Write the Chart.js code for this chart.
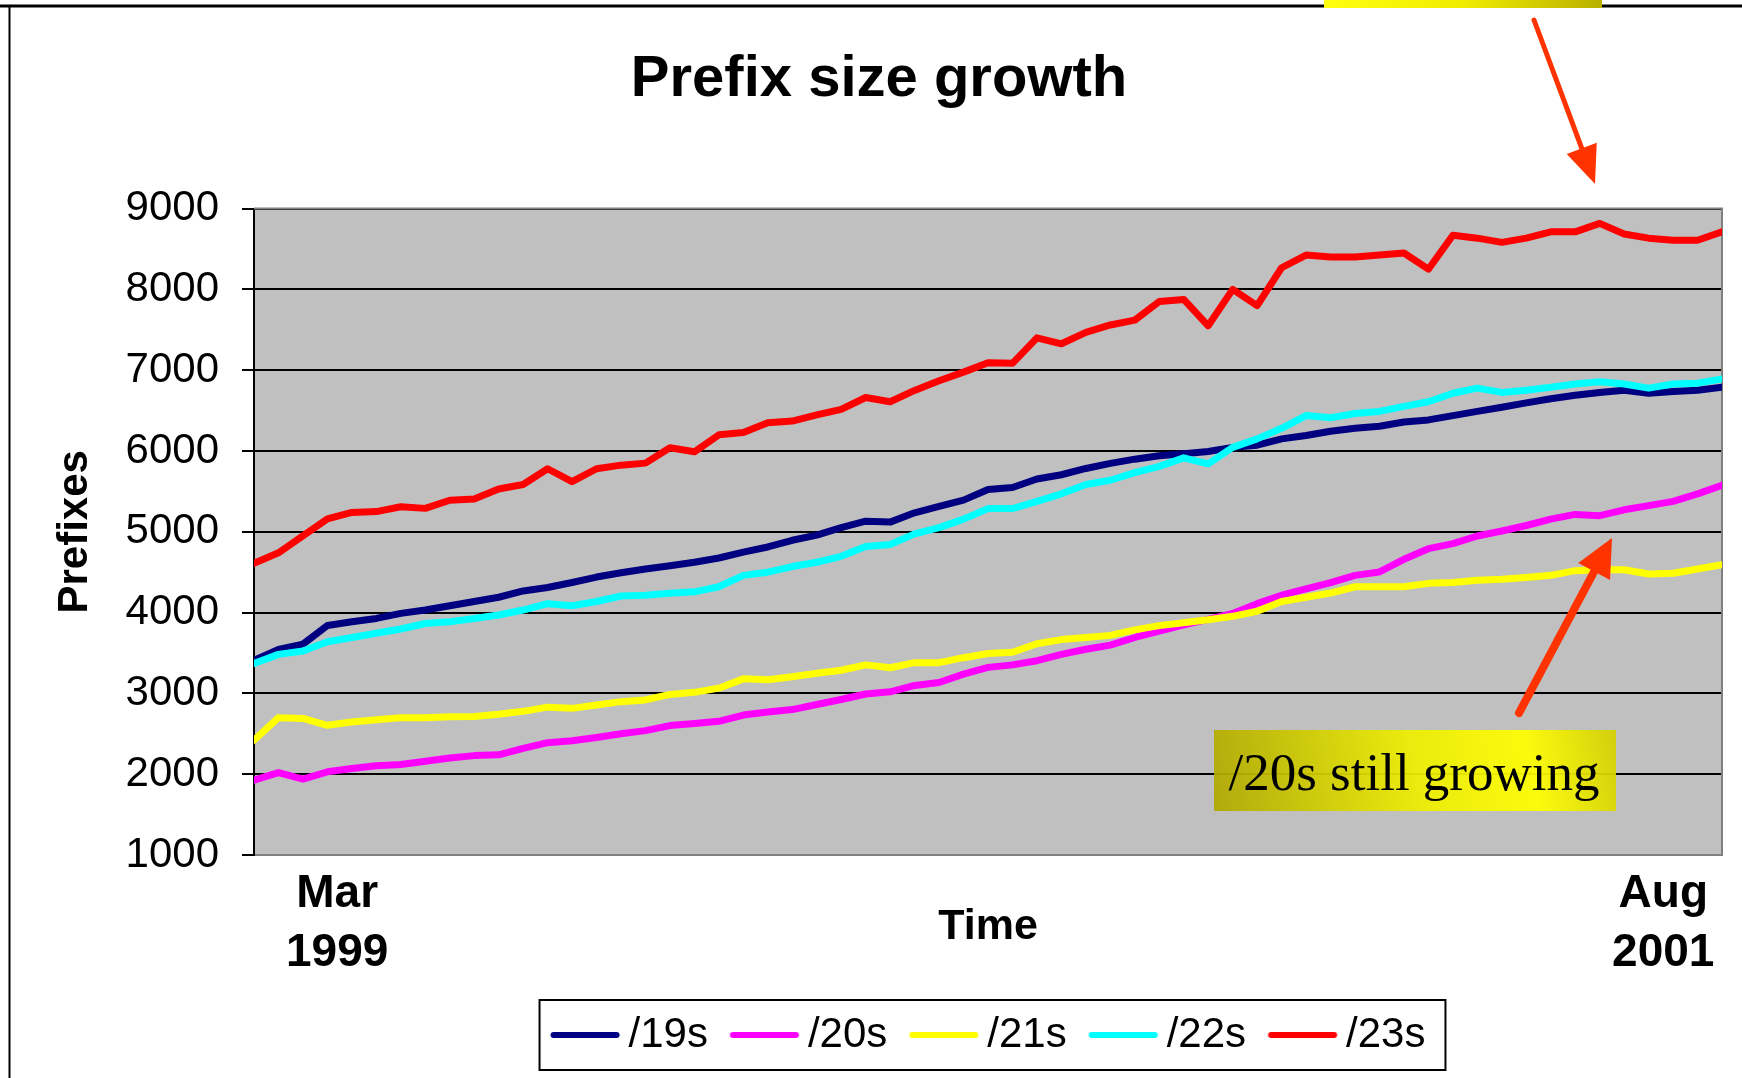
<!DOCTYPE html>
<html>
<head>
<meta charset="utf-8">
<title>Prefix size growth</title>
<script src="https://cdn.jsdelivr.net/npm/chart.js@4.4.1/dist/chart.umd.min.js"></script>
<style>
  html, body { margin: 0; padding: 0; background: #fff; }
  #wrap { width: 1742px; height: 1078px; }
</style>
</head>
<body>
<div id="wrap"><canvas id="chart"></canvas></div>
<script>
// prefix counts, one sample about every two weeks
const prefixes19 = [3410, 3545, 3610, 3840, 3886, 3928, 3990, 4032, 4085, 4137, 4190, 4268, 4310, 4372, 4440, 4493,
  4540, 4580, 4623, 4676, 4749, 4812, 4895, 4958, 5052, 5131, 5120, 5235, 5314, 5392, 5523,
  5549, 5653, 5706, 5784, 5847, 5899, 5941, 5967, 5993, 6045, 6072, 6150, 6192, 6244, 6281,
  6307, 6359, 6385, 6438, 6490, 6542, 6595, 6647, 6689, 6725, 6752, 6715, 6736, 6752, 6788];
const prefixes20 = [1925, 2020, 1940, 2030, 2070, 2105, 2120, 2160, 2200, 2230, 2240, 2320, 2390, 2415, 2455, 2500,
  2539, 2602, 2628, 2654, 2732, 2769, 2800, 2863, 2925, 2993, 3020, 3098, 3135, 3239, 3322,
  3353, 3405, 3483, 3546, 3598, 3692, 3771, 3849, 3917, 3990, 4111, 4215, 4294, 4372, 4461,
  4503, 4660, 4791, 4853, 4948, 5010, 5078, 5157, 5215, 5200, 5272, 5324, 5376, 5470, 5575];
const prefixes21 = [2420, 2700, 2690, 2605, 2647, 2673, 2700, 2700, 2710, 2715, 2742, 2778, 2830, 2815, 2856, 2898,
  2919, 2987, 3013, 3065, 3180, 3170, 3207, 3249, 3286, 3353, 3317, 3380, 3380, 3442, 3494,
  3510, 3614, 3666, 3692, 3718, 3786, 3839, 3875, 3912, 3954, 4017, 4137, 4190, 4242, 4320,
  4320, 4320, 4362, 4372, 4400, 4414, 4435, 4461, 4519, 4530, 4530, 4477, 4487, 4540, 4592];
const prefixes22 = [3370, 3483, 3525, 3640, 3692, 3745, 3797, 3865, 3886, 3928, 3970, 4032, 4110, 4085, 4137, 4205,
  4215, 4240, 4257, 4320, 4461, 4500, 4570, 4623, 4697, 4817, 4843, 4974, 5052, 5157, 5287,
  5287, 5376, 5470, 5585, 5638, 5732, 5810, 5915, 5840, 6045, 6150, 6281, 6438, 6412, 6464,
  6490, 6553, 6610, 6715, 6778, 6725, 6752, 6788, 6830, 6856, 6830, 6778, 6830, 6840, 6893];
const prefixes23 = [4610, 4740, 4950, 5160, 5240, 5250, 5310, 5290, 5390, 5405, 5530, 5585, 5780, 5620, 5780, 5825,
  5850, 6040, 5990, 6200, 6230, 6350, 6370, 6448, 6516, 6662, 6610, 6750, 6870, 6976, 7091,
  7085, 7400, 7327, 7468, 7560, 7620, 7850, 7876, 7550, 8000, 7800, 8268, 8425, 8400, 8400,
  8425, 8451, 8250, 8671, 8634, 8582, 8634, 8712, 8712, 8817, 8686, 8634, 8608, 8608, 8712];

const seriesNames = ['/19s', '/20s', '/21s', '/22s', '/23s'];
const seriesValues = [prefixes19, prefixes20, prefixes21, prefixes22, prefixes23];
const seriesColors = ['#000080', '#ff00ff', '#ffff00', '#00ffff', '#ff0000'];
const xTickLabels = [['Mar', '1999'], ['Aug', '2001']];

Chart.defaults.font.family = '"Liberation Sans", Arial, sans-serif';
Chart.defaults.color = '#000';

// legend swatch: short thick line, drawn close to its text like the original
function lineSwatch(color) {
  const c = document.createElement('canvas');
  c.width = 140; c.height = 12;
  const g = c.getContext('2d');
  g.strokeStyle = color; g.lineWidth = 6; g.lineCap = 'round';
  g.beginPath(); g.moveTo(44.5, 6); g.lineTo(107.5, 6); g.stroke();
  return c;
}

function arrow(ctx, x0, y0, x1, y1, w, headLen, headHalf) {
  const len = Math.hypot(x1 - x0, y1 - y0);
  const ux = (x1 - x0) / len, uy = (y1 - y0) / len;
  const bx = x1 - ux * headLen, by = y1 - uy * headLen;
  ctx.strokeStyle = ctx.fillStyle = '#ff3300';
  ctx.lineWidth = w; ctx.lineCap = 'round';
  ctx.beginPath(); ctx.moveTo(x0, y0); ctx.lineTo(bx + ux * 3, by + uy * 3); ctx.stroke();
  ctx.beginPath();
  ctx.moveTo(x1, y1);
  ctx.lineTo(bx - uy * headHalf, by + ux * headHalf);
  ctx.lineTo(bx + uy * headHalf, by - ux * headHalf);
  ctx.closePath(); ctx.fill();
}

const decor = {
  id: 'decor',
  beforeDraw(chart) {
    const {ctx, chartArea: a} = chart;
    ctx.save();
    ctx.fillStyle = '#fff';
    ctx.fillRect(0, 0, chart.width, chart.height);
    ctx.fillStyle = '#c0c0c0';
    ctx.fillRect(a.left, a.top, a.right - a.left, a.bottom - a.top);
    ctx.restore();
  },
  beforeDatasetsDraw(chart) {
    const {ctx, chartArea: a} = chart;
    ctx.save();
    ctx.strokeStyle = '#808080'; ctx.lineWidth = 2;
    ctx.beginPath();
    ctx.moveTo(a.left, a.top); ctx.lineTo(a.right, a.top);
    ctx.lineTo(a.right, a.bottom); ctx.lineTo(a.left + 1, a.bottom);
    ctx.stroke();
    ctx.restore();
  },
  afterDraw(chart) {
    const ctx = chart.ctx;
    ctx.save();
    // slide frame
    ctx.strokeStyle = '#000';
    ctx.lineWidth = 3;
    ctx.beginPath(); ctx.moveTo(0, 6); ctx.lineTo(chart.width, 6); ctx.stroke();
    ctx.lineWidth = 2;
    ctx.beginPath(); ctx.moveTo(9.5, 6); ctx.lineTo(9.5, chart.height); ctx.stroke();

    // legend frame
    const hb = chart.legend.legendHitBoxes;
    const first = hb[0], last = hb[hb.length - 1];
    const cy = first.top + first.height / 2;
    const lx = first.left - 11, rx = last.left + last.width + 20;
    ctx.lineWidth = 2;
    ctx.strokeRect(lx, cy - 35, rx - lx, 70);

    // cut-off callout at the top
    let gr = ctx.createLinearGradient(1324, 0, 1602, 0);
    gr.addColorStop(0, '#ffff10');
    gr.addColorStop(0.5, '#f0ec00');
    gr.addColorStop(1, '#b8b000');
    ctx.fillStyle = gr;
    ctx.fillRect(1324, 0, 278, 8);
    arrow(ctx, 1534, 20, 1595, 184, 5, 38, 16);

    // "/20s still growing" callout
    gr = ctx.createLinearGradient(1214, 811, 1616, 730);
    gr.addColorStop(0, '#b0a800');
    gr.addColorStop(0.5, '#eeee00');
    gr.addColorStop(0.78, '#ffff00');
    gr.addColorStop(1, '#d4d000');
    ctx.globalAlpha = 0.93;
    ctx.fillStyle = gr;
    ctx.fillRect(1214, 730, 402, 81);
    ctx.globalAlpha = 1;
    ctx.fillStyle = '#000';
    ctx.font = '53px "Liberation Serif", "Times New Roman", serif';
    ctx.textAlign = 'center';
    ctx.textBaseline = 'alphabetic';
    ctx.fillText('/20s still growing', 1414, 790);
    arrow(ctx, 1519, 713, 1612, 538, 8, 38, 18);
    ctx.restore();
  }
};

new Chart(document.getElementById('chart'), {
  type: 'line',
  data: {
    datasets: seriesNames.map((name, k) => ({
      label: name,
      data: seriesValues[k].map((v, i) => ({x: i, y: v})),
      borderColor: seriesColors[k],
      backgroundColor: seriesColors[k],
      borderWidth: 7,
      borderCapStyle: 'round',
      borderJoinStyle: 'round',
      pointRadius: 0,
      tension: 0,
      order: seriesNames.length - k
    }))
  },
  options: {
    responsive: true,
    maintainAspectRatio: false,
    animation: false,
    layout: { padding: { top: 0, left: 36, right: 20, bottom: 12 } },
    plugins: {
      title: {
        display: true,
        text: 'Prefix size growth',
        font: { size: 58, weight: 'bold' },
        color: '#000',
        padding: { top: 45, bottom: 94 }
      },
      legend: {
        position: 'bottom',
        fullSize: false,
        labels: {
          usePointStyle: true,
          pointStyleWidth: 57,
          padding: 22,
          color: '#000',
          font: { size: 42, lineHeight: 1 },
          sort: (a, b) => a.datasetIndex - b.datasetIndex,
          generateLabels(chart) {
            const items = Chart.defaults.plugins.legend.labels.generateLabels(chart);
            items.forEach(it => { it.pointStyle = lineSwatch(it.strokeStyle); });
            return items;
          }
        }
      },
      tooltip: { enabled: false }
    },
    scales: {
      x: {
        type: 'linear',
        min: 0,
        max: prefixes19.length - 1,
        afterBuildTicks(scale) { scale.ticks = [{value: 3.4}, {value: 57.6}]; },
        afterFit(scale) { scale.height = 137; },
        grid: { display: false, drawTicks: false },
        border: { display: false },
        ticks: {
          autoSkip: false,
          maxRotation: 0,
          padding: 10,
          font: { size: 46, weight: 'bold', lineHeight: 1.283 },
          callback: (value, index) => xTickLabels[index]
        },
        title: {
          display: true,
          text: 'Time',
          font: { size: 43, weight: 'bold' },
          padding: { top: 0, bottom: 39 }
        }
      },
      y: {
        min: 1000,
        max: 9000,
        afterFit(scale) { scale.width = 218; },
        grid: { color: '#000', lineWidth: 2, tickLength: 12 },
        border: { color: '#000', width: 2 },
        ticks: { stepSize: 1000, padding: 23, font: { size: 42 }, callback: v => String(v) },
        title: {
          display: true,
          text: 'Prefixes',
          font: { size: 42, weight: 'bold' },
          padding: { top: 14, bottom: 0 }
        }
      }
    }
  },
  plugins: [decor]
});
</script>
</body>
</html>
